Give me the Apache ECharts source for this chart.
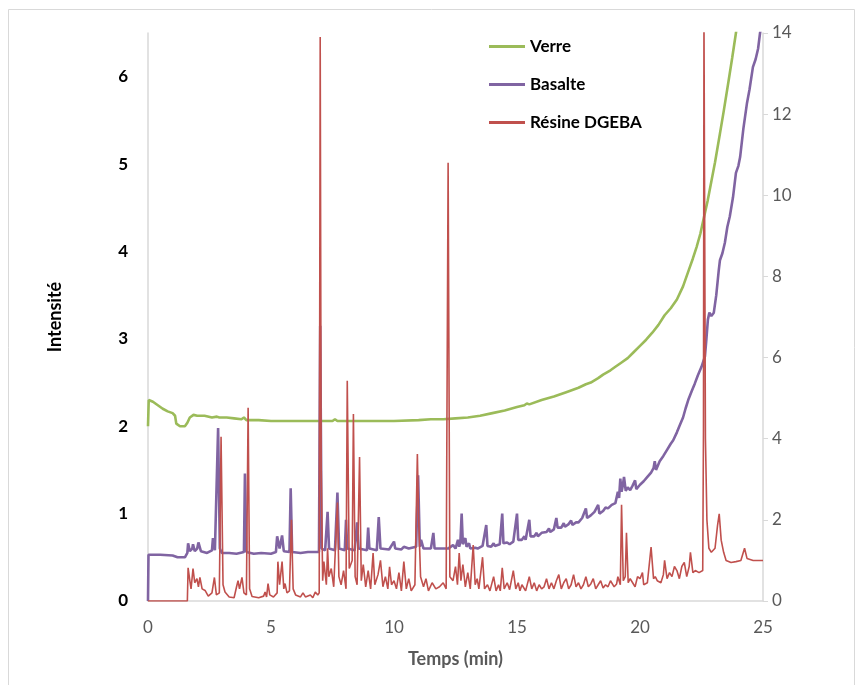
<!DOCTYPE html>
<html>
<head>
<meta charset="utf-8">
<title>Intensité</title>
<script src="https://cdn.jsdelivr.net/npm/echarts@6/dist/echarts.min.js"></script>
<style>
  html, body { margin: 0; padding: 0; background: #fff; }
  #main { width: 863px; height: 685px; }
</style>
</head>
<body>
<div id="main"></div>
<script>
// temps (min) / intensité
var verre = [
  [0, 2.0], [0.03, 2.3], [0.2, 2.28], [0.4, 2.24], [0.6, 2.2], [0.8, 2.17], [1.0, 2.15], [1.1, 2.12],
  [1.15, 2.03], [1.3, 2.0], [1.5, 2.0], [1.6, 2.04], [1.7, 2.1], [1.85, 2.13], [2.0, 2.12], [2.3, 2.12],
  [2.6, 2.1], [2.8, 2.11], [2.85, 2.13], [2.9, 2.1], [3.2, 2.1], [3.5, 2.09], [3.8, 2.08], [3.9, 2.1],
  [4.0, 2.07], [4.5, 2.07], [5.0, 2.06], [5.5, 2.06], [5.8, 2.06], [5.85, 2.08], [5.9, 2.06], [6.5, 2.06],
  [7.0, 2.06], [7.5, 2.06], [7.6, 2.08], [7.7, 2.06], [8.5, 2.06], [9.0, 2.06], [9.05, 2.08], [9.1, 2.06],
  [10, 2.06], [11, 2.07], [11.5, 2.08], [12, 2.08], [12.5, 2.09], [13, 2.1], [13.5, 2.12], [14, 2.15],
  [14.5, 2.18], [15, 2.22], [15.3, 2.24], [15.4, 2.26], [15.5, 2.25], [16, 2.3], [16.5, 2.34], [17, 2.39],
  [17.5, 2.44], [17.8, 2.48], [18, 2.5], [18.3, 2.55], [18.5, 2.59], [18.8, 2.64], [19, 2.68], [19.25, 2.73],
  [19.5, 2.78], [19.75, 2.85], [20, 2.92], [20.25, 2.99], [20.5, 3.07], [20.75, 3.16], [21, 3.27], [21.25, 3.35],
  [21.5, 3.45], [21.75, 3.6], [22, 3.8], [22.15, 3.92], [22.3, 4.05], [22.45, 4.2], [22.6, 4.39], [22.75, 4.58],
  [22.9, 4.8], [23.05, 5.02], [23.25, 5.35], [23.4, 5.6], [23.6, 5.95], [23.75, 6.22], [23.9, 6.5], [24.0, 6.7]
];

var basalte = [
  [0, 0], [0.02, 0.53], [0.5, 0.53], [1.0, 0.52], [1.2, 0.5], [1.5, 0.5], [1.6, 0.55], [1.63, 0.66],
  [1.7, 0.57], [1.8, 0.6], [1.83, 0.65], [1.9, 0.57], [2.0, 0.6], [2.05, 0.67], [2.15, 0.57], [2.4, 0.55],
  [2.6, 0.58], [2.64, 0.72], [2.72, 0.58], [2.8, 0.56], [2.85, 1.98], [2.92, 0.6], [3.0, 0.55], [3.3, 0.55],
  [3.6, 0.54], [3.9, 0.56], [3.94, 1.46], [4.0, 0.56], [4.3, 0.54], [4.6, 0.55], [5.0, 0.54], [5.2, 0.56],
  [5.25, 0.74], [5.35, 0.6], [5.45, 0.75], [5.52, 0.57], [5.75, 0.56], [5.8, 1.29], [5.86, 0.56], [6.2, 0.55],
  [6.5, 0.56], [6.95, 0.56], [7.0, 3.15], [7.06, 0.6], [7.2, 0.58], [7.3, 1.02], [7.36, 0.6], [7.6, 0.58],
  [7.7, 1.24], [7.77, 0.6], [8.0, 0.58], [8.05, 0.93], [8.1, 0.6], [8.4, 0.58], [8.5, 0.9], [8.56, 0.6],
  [8.9, 0.58], [8.95, 0.84], [9.0, 0.6], [9.3, 0.58], [9.38, 0.96], [9.45, 0.6], [9.8, 0.59], [10.0, 0.68],
  [10.05, 0.6], [10.3, 0.59], [10.4, 0.62], [10.6, 0.6], [10.9, 0.62], [10.98, 1.44], [11.05, 0.62], [11.1, 0.7],
  [11.2, 0.6], [11.5, 0.6], [11.6, 0.78], [11.65, 0.6], [12.0, 0.6], [12.2, 0.6], [12.4, 0.64], [12.5, 0.6],
  [12.6, 0.7], [12.65, 0.62], [12.7, 0.68], [12.75, 1.0], [12.8, 0.65], [12.9, 0.72], [12.95, 0.62], [13.05, 0.66],
  [13.1, 0.6], [13.3, 0.61], [13.4, 0.6], [13.6, 0.63], [13.75, 0.87], [13.8, 0.63], [13.95, 0.62], [14.05, 0.66],
  [14.1, 0.63], [14.3, 0.65], [14.4, 1.0], [14.45, 0.66], [14.6, 0.67], [14.7, 0.65], [14.85, 0.68], [15.0, 1.0],
  [15.05, 0.7], [15.2, 0.7], [15.3, 0.74], [15.35, 0.7], [15.5, 0.93], [15.55, 0.74], [15.7, 0.74], [15.8, 0.78],
  [15.85, 0.74], [16.0, 0.78], [16.2, 0.79], [16.3, 0.83], [16.35, 0.79], [16.5, 0.82], [16.6, 0.95], [16.65, 0.84],
  [16.8, 0.84], [16.9, 0.89], [16.95, 0.85], [17.1, 0.88], [17.2, 0.92], [17.25, 0.87], [17.4, 0.9], [17.5, 0.9],
  [17.65, 0.95], [17.8, 1.06], [17.85, 0.95], [18.0, 0.98], [18.15, 1.02], [18.3, 1.1], [18.35, 1.0], [18.5, 1.03],
  [18.6, 1.07], [18.7, 1.06], [18.85, 1.1], [19.0, 1.12], [19.1, 1.25], [19.15, 1.18], [19.2, 1.4], [19.25, 1.25],
  [19.3, 1.32], [19.35, 1.42], [19.42, 1.26], [19.5, 1.3], [19.6, 1.27], [19.7, 1.32], [19.8, 1.38], [19.85, 1.28],
  [20.0, 1.33], [20.15, 1.37], [20.3, 1.42], [20.45, 1.47], [20.55, 1.52], [20.6, 1.6], [20.65, 1.5], [20.8, 1.6],
  [20.95, 1.66], [21.1, 1.73], [21.25, 1.8], [21.35, 1.84], [21.5, 1.93], [21.6, 2.0], [21.75, 2.1], [21.85, 2.2],
  [21.96, 2.3], [22.1, 2.4], [22.23, 2.49], [22.35, 2.58], [22.5, 2.68], [22.64, 2.8], [22.7, 3.0], [22.76, 3.22],
  [22.82, 3.3], [22.9, 3.26], [23.0, 3.3], [23.1, 3.5], [23.2, 3.78], [23.25, 3.9], [23.35, 3.98], [23.45, 4.1],
  [23.55, 4.28], [23.65, 4.4], [23.78, 4.62], [23.9, 4.9], [24.0, 4.98], [24.07, 5.08], [24.2, 5.4], [24.35, 5.7],
  [24.45, 5.85], [24.59, 6.11], [24.7, 6.2], [24.8, 6.32], [24.88, 6.5], [25, 6.7]
];

// résine : axe de droite (0 - 14)
var resine = [
  [0, 0], [1.6, 0], [1.63, 0.82], [1.7, 0.5], [1.75, 0.3], [1.83, 0.8], [1.9, 0.45], [1.99, 0.55],
  [2.05, 0.35], [2.11, 0.58], [2.2, 0.3], [2.32, 0.26], [2.45, 0.12], [2.6, 0.2], [2.7, 0.58], [2.78, 0.15],
  [2.9, 0.2], [2.97, 4.05], [3.05, 0.4], [3.13, 0.22], [3.3, 0.1], [3.5, 0.08], [3.6, 0.35], [3.66, 0.5],
  [3.72, 0.3], [3.82, 0.58], [3.9, 0.2], [4.0, 0.15], [4.07, 4.76], [4.13, 0.3], [4.23, 0.11], [4.5, 0.08],
  [4.7, 0.12], [4.76, 0.22], [4.82, 0.1], [4.88, 0.43], [4.95, 0.15], [5.1, 0.1], [5.25, 0.2], [5.28, 0.97],
  [5.35, 0.4], [5.45, 0.97], [5.52, 0.3], [5.57, 0.43], [5.65, 0.2], [5.75, 0.25], [5.83, 2.0], [5.9, 0.3],
  [6.0, 0.15], [6.2, 0.1], [6.3, 0.2], [6.4, 0.1], [6.6, 0.15], [6.7, 0.08], [6.8, 0.22], [6.9, 0.15],
  [6.96, 0.2], [7.0, 13.9], [7.04, 3.3], [7.1, 0.5], [7.15, 0.97], [7.25, 0.4], [7.3, 1.3], [7.35, 0.6],
  [7.45, 0.8], [7.55, 0.35], [7.7, 2.43], [7.76, 0.6], [7.85, 0.4], [7.95, 0.75], [8.05, 0.3], [8.1, 5.43],
  [8.18, 0.8], [8.3, 1.0], [8.35, 4.61], [8.42, 0.6], [8.5, 0.4], [8.6, 3.55], [8.67, 0.5], [8.75, 0.9],
  [8.85, 0.35], [8.95, 0.75], [9.05, 0.3], [9.15, 1.18], [9.22, 0.4], [9.35, 0.65], [9.45, 1.0], [9.55, 0.35],
  [9.65, 0.6], [9.75, 0.3], [9.82, 0.84], [9.9, 0.4], [10.0, 0.5], [10.1, 0.3], [10.2, 0.7], [10.3, 0.25],
  [10.4, 0.97], [10.5, 0.3], [10.6, 0.55], [10.7, 0.25], [10.85, 0.4], [10.95, 3.62], [11.0, 2.07], [11.08, 0.6],
  [11.2, 0.35], [11.3, 0.55], [11.4, 0.25], [11.55, 0.45], [11.7, 0.3], [11.85, 0.35], [12.0, 0.45], [12.12, 0.3],
  [12.2, 10.8], [12.27, 0.6], [12.4, 0.5], [12.5, 0.85], [12.58, 0.4], [12.65, 1.18], [12.72, 0.5], [12.8, 0.9],
  [12.9, 0.35], [13.0, 0.7], [13.1, 0.3], [13.22, 1.38], [13.3, 0.4], [13.38, 0.55], [13.45, 0.3], [13.6, 1.08],
  [13.68, 0.3], [13.8, 0.4], [13.9, 0.25], [14.05, 0.6], [14.15, 0.25], [14.25, 0.4], [14.32, 0.25], [14.4, 0.82],
  [14.48, 0.3], [14.6, 0.45], [14.7, 0.28], [14.85, 0.75], [14.95, 0.3], [15.05, 0.45], [15.12, 0.25], [15.2, 0.4],
  [15.35, 0.25], [15.5, 0.6], [15.6, 0.3], [15.7, 0.45], [15.8, 0.25], [15.9, 0.4], [16.0, 0.3], [16.1, 0.35],
  [16.2, 0.55], [16.3, 0.3], [16.4, 0.45], [16.5, 0.3], [16.6, 0.5], [16.7, 0.65], [16.8, 0.3], [16.9, 0.45],
  [17.0, 0.55], [17.1, 0.3], [17.2, 0.4], [17.3, 0.65], [17.4, 0.35], [17.5, 0.45], [17.6, 0.3], [17.7, 0.4],
  [17.8, 0.6], [17.9, 0.35], [18.0, 0.42], [18.1, 0.55], [18.2, 0.3], [18.3, 0.4], [18.4, 0.5], [18.5, 0.32],
  [18.6, 0.4], [18.7, 0.35], [18.8, 0.5], [18.95, 0.35], [19.05, 0.42], [19.1, 0.6], [19.2, 0.4], [19.25, 2.37],
  [19.32, 0.5], [19.4, 0.6], [19.45, 1.68], [19.52, 0.45], [19.6, 0.55], [19.7, 0.45], [19.8, 0.35], [19.9, 0.6],
  [20.0, 0.55], [20.1, 0.7], [20.15, 0.4], [20.3, 0.45], [20.45, 1.33], [20.55, 0.55], [20.62, 0.6], [20.7, 0.5],
  [20.85, 0.45], [20.95, 0.65], [21.0, 1.0], [21.1, 0.55], [21.2, 0.7], [21.3, 0.6], [21.4, 0.85], [21.5, 0.75],
  [21.6, 0.55], [21.7, 0.85], [21.8, 0.95], [21.9, 0.6], [22.0, 0.85], [22.05, 1.2], [22.15, 0.7], [22.25, 0.75],
  [22.4, 0.7], [22.55, 0.75], [22.58, 4.2], [22.6, 14.5], [22.66, 4.0], [22.72, 2.0], [22.8, 1.3], [22.9, 1.2],
  [23.05, 1.3], [23.15, 1.85], [23.22, 2.15], [23.3, 1.5], [23.4, 1.2], [23.5, 1.0], [23.7, 0.95], [23.9, 0.97],
  [24.1, 1.0], [24.25, 1.3], [24.35, 1.05], [24.6, 1.0], [24.8, 1.0], [25, 1.0]
];

var seriesNames = ['Verre', 'Basalte', 'Résine DGEBA'];
var xTicks = { min: 0, max: 25, step: 5 };
var leftTicks = { min: 0, max: 6.5, step: 1 };
var rightTicks = { min: 0, max: 14, step: 2 };

var chart = echarts.init(document.getElementById('main'), null, { renderer: 'canvas' });

var font = 'Lato, "Liberation Sans", sans-serif';

var option = {
  backgroundColor: '#fff',
  animation: false,
  color: ['#9BBB59', '#8064A2', '#C0504D'],
  textStyle: { fontFamily: font },
  graphic: [
    {
      // cadre de la zone graphique
      type: 'rect',
      shape: { x: 8.5, y: 9.5, width: 846, height: 700 },
      style: { fill: 'none', stroke: '#D9D9D9', lineWidth: 1 }
    }
  ],
  legend: {
    data: seriesNames,
    orient: 'vertical',
    left: 484,
    top: 33,
    icon: 'rect',
    itemWidth: 36,
    itemHeight: 3,
    itemGap: 21,
    textStyle: { fontFamily: font, fontSize: 17, fontWeight: 'bold', color: '#000' }
  },
  grid: {
    left: 148,
    right: 100,
    top: 33,
    bottom: 84
  },
  xAxis: {
    type: 'value',
    min: xTicks.min,
    max: xTicks.max,
    interval: xTicks.step,
    name: 'Temps (min)',
    nameLocation: 'middle',
    nameGap: 49,
    nameTextStyle: { fontFamily: font, fontSize: 18, fontWeight: 'bold', color: '#595959' },
    axisLine: { lineStyle: { color: '#D9D9D9', width: 1.5 } },
    axisTick: { show: false },
    splitLine: { show: false },
    axisLabel: { fontFamily: font, fontSize: 17, color: '#595959', margin: 18 }
  },
  yAxis: [
    {
      type: 'value',
      min: leftTicks.min,
      max: leftTicks.max,
      interval: leftTicks.step,
      name: 'Intensité',
      nameLocation: 'middle',
      nameGap: 84,
      nameRotate: 90,
      nameTextStyle: { fontFamily: font, fontSize: 18, fontWeight: 'bold', color: '#000' },
      axisLine: { show: true, lineStyle: { color: '#D9D9D9', width: 1.5 } },
      axisTick: { show: false },
      splitLine: { show: false },
      axisLabel: { fontFamily: font, fontSize: 17, fontWeight: 'bold', color: '#000', margin: 20, showMaxLabel: false }
    },
    {
      type: 'value',
      position: 'right',
      min: rightTicks.min,
      max: rightTicks.max,
      interval: rightTicks.step,
      axisLine: { show: true, lineStyle: { color: '#D9D9D9', width: 1.5 } },
      axisTick: { show: true, inside: false, length: 5, lineStyle: { color: '#D9D9D9' } },
      splitLine: { show: false },
      axisLabel: { fontFamily: font, fontSize: 17, color: '#595959', margin: 9 }
    }
  ],
  series: [
    {
      name: seriesNames[0],
      type: 'line',
      yAxisIndex: 0,
      symbol: 'none',
      data: verre,
      lineStyle: { width: 2.6 }
    },
    {
      name: seriesNames[1],
      type: 'line',
      yAxisIndex: 0,
      symbol: 'none',
      data: basalte,
      lineStyle: { width: 2.6 }
    },
    {
      name: seriesNames[2],
      type: 'line',
      yAxisIndex: 1,
      symbol: 'none',
      data: resine,
      lineStyle: { width: 1.6 }
    }
  ]
};

chart.setOption(option);
</script>
</body>
</html>
